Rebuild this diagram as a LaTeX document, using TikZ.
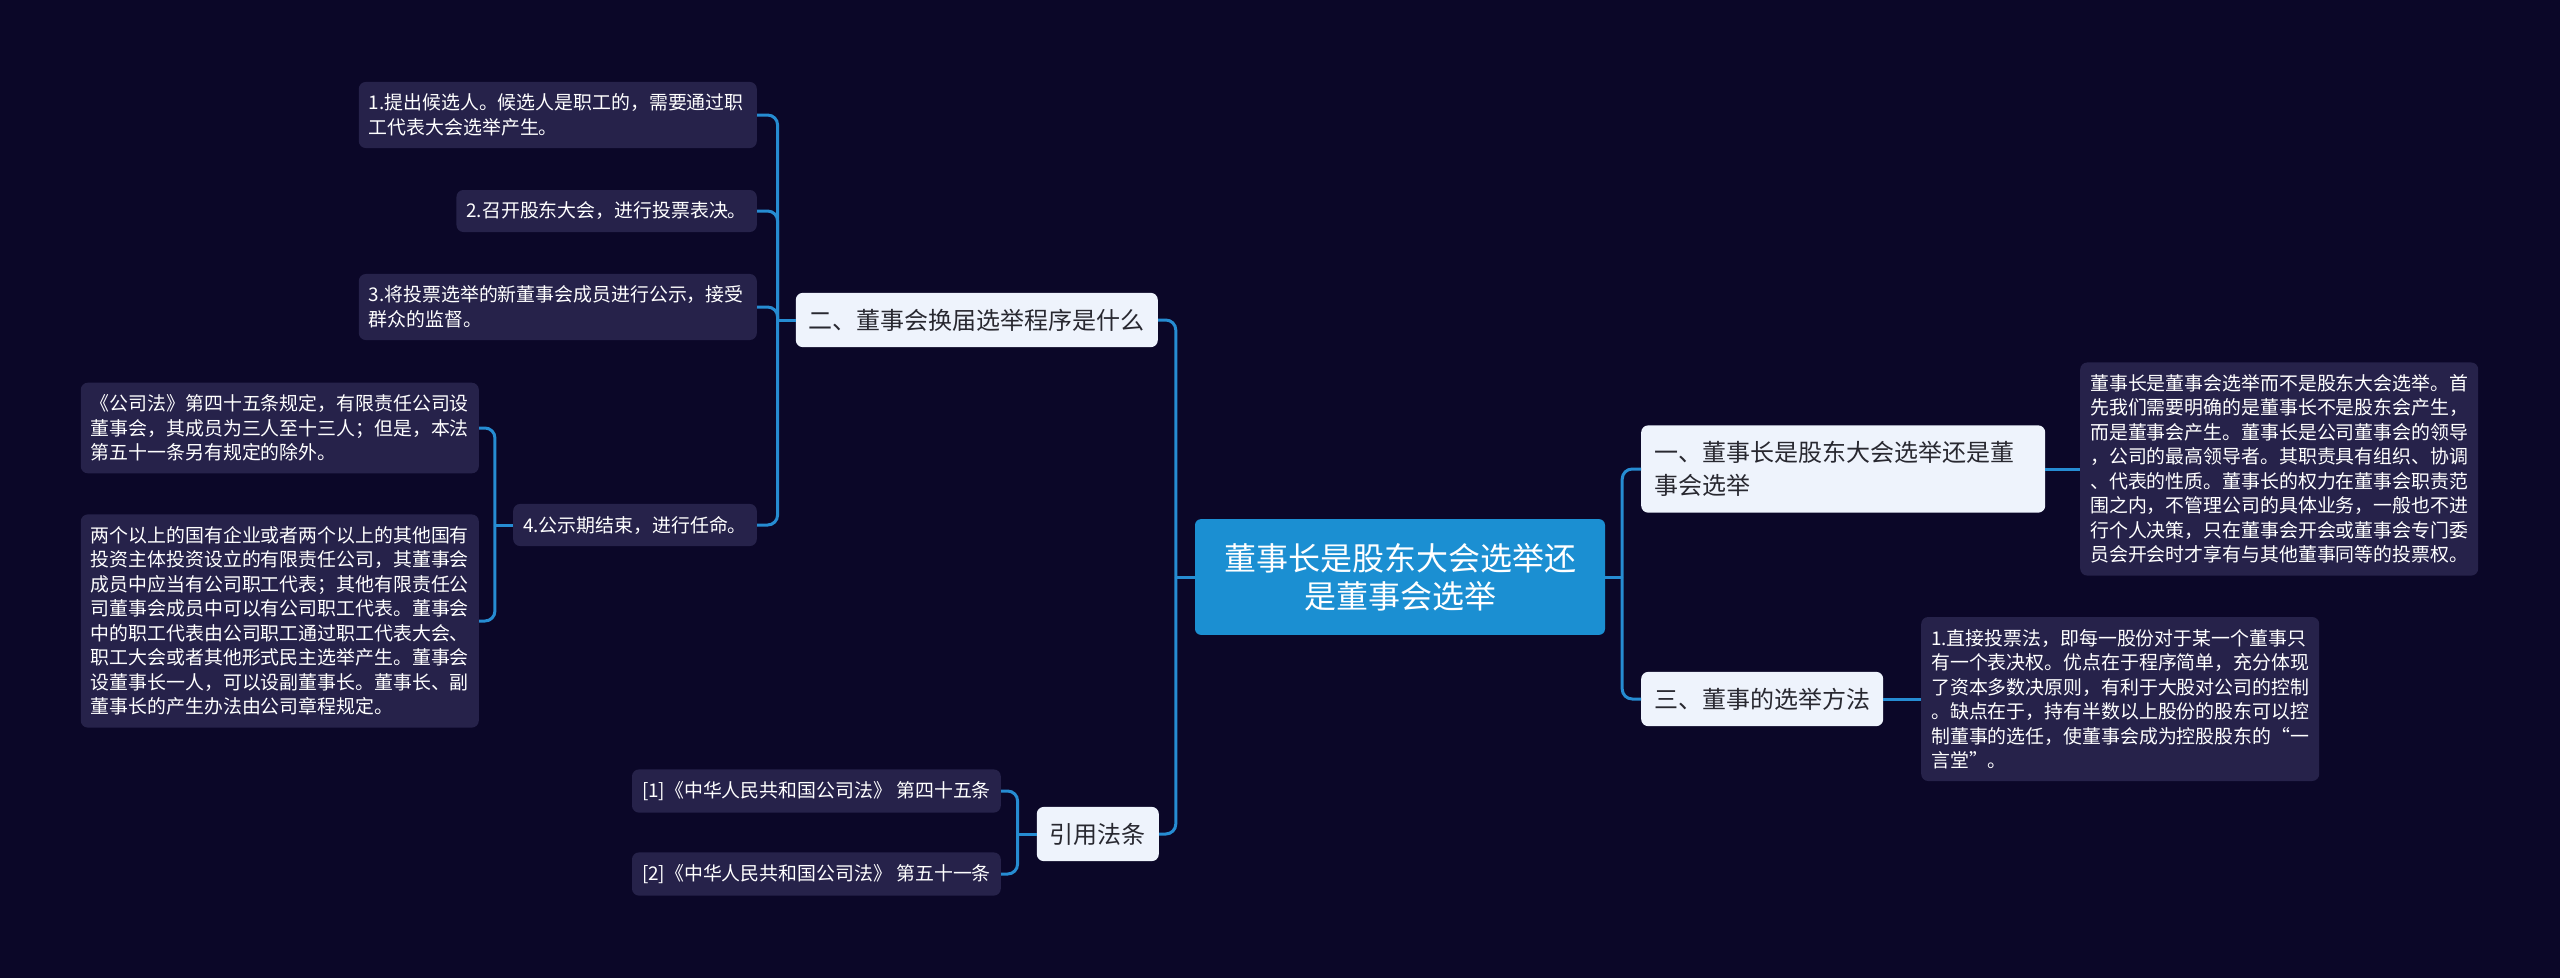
\documentclass[tikz,border=0pt]{standalone}
\usepackage{fontspec}
\setmainfont{Noto Sans CJK SC}
\usepackage{tikz}
\usepackage{xcolor}
\definecolor{bgnavy}{RGB}{11,7,40}
\definecolor{leafbg}{RGB}{38,34,74}
\definecolor{topicbg}{RGB}{238,243,252}
\definecolor{rootblue}{RGB}{27,143,210}
\definecolor{linkblue}{RGB}{38,140,210}
\definecolor{topictext}{RGB}{40,40,48}

\begin{document}
\begin{tikzpicture}[x=1pt,y=-1pt,
leaf/.style={fill=leafbg,text=white,rounded corners=7pt,inner xsep=10pt,inner ysep=12pt,align=left,font=\fontsize{18.9}{24.5}\selectfont},
topic/.style={fill=topicbg,text=topictext,rounded corners=7pt,inner xsep=13pt,inner ysep=16pt,align=left,font=\fontsize{24}{33}\selectfont},
link/.style={draw=linkblue,line width=3pt,rounded corners=10pt}]
\fill[bgnavy] (0,0) rectangle (2560,978);
\useasboundingbox (0,0) rectangle (2560,978);
\node[fill=rootblue,text=white,rounded corners=6pt,inner xsep=29pt,inner ysep=24pt,align=center,font=\fontsize{32}{38}\selectfont] (root) at (1400,577) {董事长是股东大会选举还\\是董事会选举};
\node[topic,anchor=east] (er) at (1158,320) {二、董事会换届选举程序是什么};
\node[topic,anchor=east] (yin) at (1159,834) {引用法条};
\node[topic,anchor=west,text width=378pt] (yi) at (1641,469) {一、董事长是股东大会选举还是董\\事会选举};
\node[topic,anchor=west] (san) at (1641,699) {三、董事的选举方法};
\node[leaf,anchor=east,text width=378pt] (e1) at (757,115) {1.提出候选人。候选人是职工的，需要通过职\\工代表大会选举产生。};
\node[leaf,anchor=east] (e2) at (757,211) {2.召开股东大会，进行投票表决。};
\node[leaf,anchor=east,text width=378pt] (e3) at (757,307) {3.将投票选举的新董事会成员进行公示，接受\\群众的监督。};
\node[leaf,anchor=east] (e4) at (757,525) {4.公示期结束，进行任命。};
\node[leaf,anchor=east,text width=378pt] (fa1) at (479,428) {《公司法》第四十五条规定，有限责任公司设\\董事会，其成员为三人至十三人；但是，本法\\第五十一条另有规定的除外。};
\node[leaf,anchor=east,text width=378pt] (fa2) at (479,621) {两个以上的国有企业或者两个以上的其他国有\\投资主体投资设立的有限责任公司，其董事会\\成员中应当有公司职工代表；其他有限责任公\\司董事会成员中可以有公司职工代表。董事会\\中的职工代表由公司职工通过职工代表大会、\\职工大会或者其他形式民主选举产生。董事会\\设董事长一人，可以设副董事长。董事长、副\\董事长的产生办法由公司章程规定。};
\node[leaf,anchor=east] (y1) at (1001,791) {[1]《中华人民共和国公司法》 第四十五条};
\node[leaf,anchor=east] (y2) at (1001,874) {[2]《中华人民共和国公司法》 第五十一条};
\node[leaf,anchor=west,text width=378pt] (t1) at (2080,469) {董事长是董事会选举而不是股东大会选举。首\\先我们需要明确的是董事长不是股东会产生，\\而是董事会产生。董事长是公司董事会的领导\\，公司的最高领导者。其职责具有组织、协调\\、代表的性质。董事长的权力在董事会职责范\\围之内，不管理公司的具体业务，一般也不进\\行个人决策，只在董事会开会或董事会专门委\\员会开会时才享有与其他董事同等的投票权。};
\node[leaf,anchor=west,text width=378pt] (t3) at (1921,699) {1.直接投票法，即每一股份对于某一个董事只\\有一个表决权。优点在于程序简单，充分体现\\了资本多数决原则，有利于大股对公司的控制\\。缺点在于，持有半数以上股份的股东可以控\\制董事的选任，使董事会成为控股股东的“一\\言堂”。};
\draw[link] (root.west) -- ++(-19,0) coordinate (sl);
\draw[link] (sl) |- (er.east);
\draw[link] (sl) |- (yin.east);
\draw[link] (root.east) -- ++(17,0) coordinate (sr);
\draw[link] (sr) |- (yi.west);
\draw[link] (sr) |- (san.west);
\draw[link] (er.west) -- ++(-18,0) coordinate (se);
\draw[link] (se) |- (e1.east);
\draw[link] (se) |- (e2.east);
\draw[link] (se) |- (e3.east);
\draw[link] (se) |- (e4.east);
\draw[link] (e4.west) -- ++(-18,0) coordinate (sf);
\draw[link] (sf) |- (fa1.east);
\draw[link] (sf) |- (fa2.east);
\draw[link] (yin.west) -- ++(-19,0) coordinate (sy);
\draw[link] (sy) |- (y1.east);
\draw[link] (sy) |- (y2.east);
\draw[link] (yi.east) -- (t1.west);
\draw[link] (san.east) -- (t3.west);
\end{tikzpicture}
\end{document}
